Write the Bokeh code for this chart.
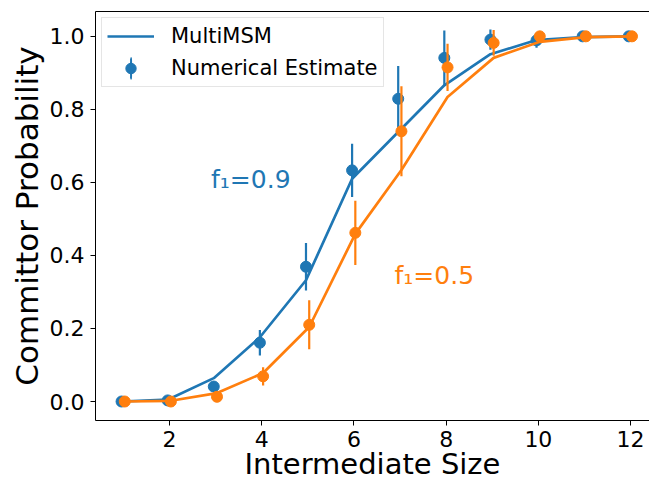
import math
from bokeh.plotting import figure
from bokeh.models import (Range1d, LinearAxis, FixedTicker, Legend, LegendItem,
                          ColumnDataSource)
from bokeh.core.properties import value
from bokeh.embed import file_html
from bokeh.resources import INLINE

# ---- data ----
sizes = [1, 2, 3, 4, 5, 6, 7, 8, 9, 10, 11, 12]

msm_f09 = [0.0, 0.005, 0.064, 0.176, 0.332, 0.610, 0.738, 0.866, 0.951, 0.990, 0.998, 1.0]
msm_f05 = [0.0, 0.002, 0.023, 0.078, 0.204, 0.459, 0.634, 0.834, 0.941, 0.985, 0.998, 1.0]

num_f09 = [0.0, 0.003, 0.041, 0.161, 0.369, 0.633, 0.829, 0.941, 0.991, 0.989, 1.0, 1.0]
err_f09 = [0.0, 0.002, 0.005, 0.035, 0.065, 0.073, 0.090, 0.075, 0.028, 0.020, 0.003, 0.002]

num_f05 = [0.0, 0.0, 0.013, 0.069, 0.210, 0.462, 0.740, 0.915, 0.982, 1.0, 1.0, 1.0]
err_f05 = [0.0, 0.001, 0.004, 0.025, 0.067, 0.088, 0.123, 0.065, 0.035, 0.003, 0.002, 0.001]

x_ticks = [2, 4, 6, 8, 10, 12]
y_ticks = [0.0, 0.2, 0.4, 0.6, 0.8, 1.0]
y_tick_labels = ["0.0", "0.2", "0.4", "0.6", "0.8", "1.0"]

ann_text = ["f\u2081=0.9", "f\u2081=0.5"]
ann_x = [2.9, 6.88]
ann_y = [0.607, 0.345]

BLUE = "#1f77b4"
ORANGE = "#ff7f0e"
FONT = "DejaVu Sans"

p = figure(width=649, height=483,
           x_range=Range1d(0.395, 12.41), y_range=Range1d(-0.052, 1.068),
           output_backend="svg", toolbar_location=None,
           min_border_left=95, min_border_right=0, min_border_top=11,
           min_border_bottom=63)
p.outline_line_color = None
p.grid.visible = False
p.background_fill_color = "white"
p.border_fill_color = "white"

# axes styling
for ax in (p.xaxis[0], p.yaxis[0]):
    ax.axis_line_color = "black"
    ax.axis_line_width = 1
    ax.major_tick_line_color = "black"
    ax.major_tick_out = 5
    ax.major_tick_in = 0
    ax.minor_tick_out = 0
    ax.minor_tick_in = 0
    ax.major_label_text_font = FONT
    ax.major_label_text_font_size = "22px"
    ax.major_label_text_color = "black"
    ax.axis_label_text_font = FONT
    ax.axis_label_text_font_style = "normal"
    ax.axis_label_text_color = "black"

p.xaxis.axis_label_text_font_size = "29px"
p.yaxis.axis_label_text_font_size = "31px"
p.xaxis.ticker = FixedTicker(ticks=x_ticks)
p.yaxis.ticker = FixedTicker(ticks=y_ticks)
p.yaxis.major_label_overrides = {t: l for t, l in zip(y_ticks, y_tick_labels)}
p.xaxis.axis_label = "Intermediate Size"
p.yaxis.axis_label = "Committor Probability"
p.xaxis.major_label_standoff = 5
p.yaxis.major_label_standoff = 6
p.xaxis.axis_label_standoff = -3
p.yaxis.axis_label_standoff = 2

top = LinearAxis(ticker=FixedTicker(ticks=[]), major_tick_out=0, major_tick_in=0,
                 minor_tick_out=0, minor_tick_in=0, major_label_text_font_size="0px",
                 axis_line_color="black", axis_line_width=1)
p.add_layout(top, "above")

def series(xs, off, ys, errs):
    xx = [x + off for x in xs]
    return ColumnDataSource(dict(x=xx, y=ys,
                                 lo=[y - e for y, e in zip(ys, errs)],
                                 hi=[y + e for y, e in zip(ys, errs)]))

src09 = series(sizes, -0.04, num_f09, err_f09)
src05 = series(sizes, 0.03, num_f05, err_f05)
line09 = ColumnDataSource(dict(x=[x - 0.04 for x in sizes], y=msm_f09))
line05 = ColumnDataSource(dict(x=[x + 0.03 for x in sizes], y=msm_f05))

l09 = p.line("x", "y", source=line09, line_color=BLUE, line_width=2.7)
e09 = p.segment(x0="x", y0="lo", x1="x", y1="hi", source=src09, line_color=BLUE, line_width=2.2)
s09 = p.scatter("x", "y", source=src09, size=11, fill_color=BLUE, line_color=BLUE)

l05 = p.line("x", "y", source=line05, line_color=ORANGE, line_width=2.7)
e05 = p.segment(x0="x", y0="lo", x1="x", y1="hi", source=src05, line_color=ORANGE, line_width=2.2)
s05 = p.scatter("x", "y", source=src05, size=11, fill_color=ORANGE, line_color=ORANGE)

# legend-only glyph: a very thin, tall ellipse renders as a vertical error bar
bar = p.ellipse(x=[float("nan")], y=[float("nan")], width=1, height=100,
                width_units="screen", height_units="screen",
                fill_color=BLUE, line_color=BLUE, line_width=2)

p.text(x=ann_x[:1], y=ann_y[:1], text=ann_text[:1], text_color=BLUE,
       text_font=value(FONT), text_font_size="25px",
       text_align="left", text_baseline="alphabetic")
p.text(x=ann_x[1:], y=ann_y[1:], text=ann_text[1:], text_color=ORANGE,
       text_font=value(FONT), text_font_size="25px",
       text_align="left", text_baseline="alphabetic")

legend = Legend(items=[LegendItem(label="MultiMSM", renderers=[l09]),
                       LegendItem(label="Numerical Estimate", renderers=[bar, s09])],
                location="top_left")
legend.margin = 6
legend.padding = 5
legend.spacing = 6
legend.glyph_width = 47
legend.glyph_height = 26
legend.label_height = 26
legend.label_standoff = 17
legend.label_text_font = FONT
legend.label_text_font_size = "21px"
legend.label_text_color = "black"
legend.border_line_color = "#cccccc"
legend.border_line_width = 1
legend.background_fill_color = "white"
legend.background_fill_alpha = 0.8
p.add_layout(legend, "center")

open("out.html", "w").write(file_html(p, INLINE))
